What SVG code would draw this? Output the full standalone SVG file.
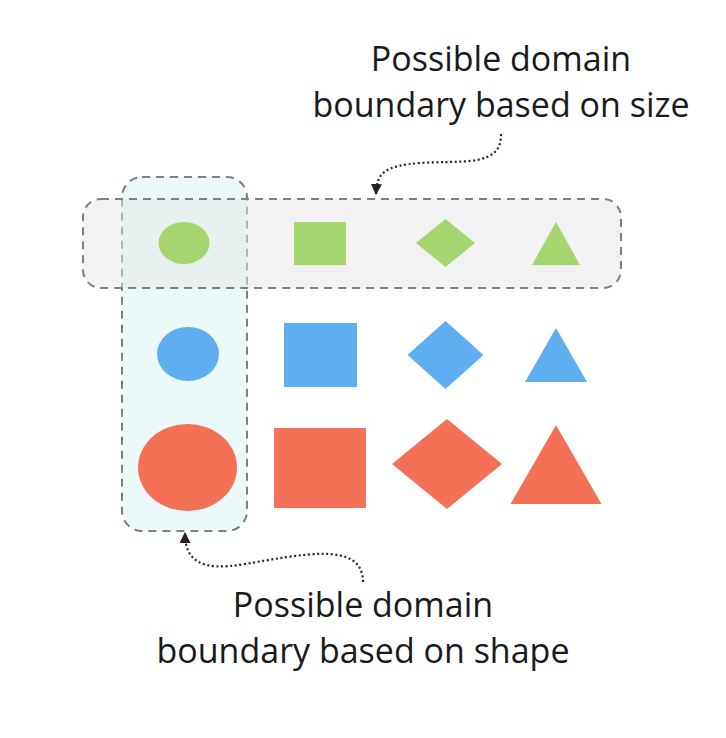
<svg xmlns="http://www.w3.org/2000/svg" width="726" height="738" viewBox="0 0 726 738">
<defs>
<style>
.lbl{font-family:"Open Sans","Noto Sans","DejaVu Sans",sans-serif;font-size:34px;fill:#1a1a1a;text-anchor:middle}
.box{stroke:#7f7f7f;stroke-width:2;stroke-dasharray:8 6}
.g{fill:#A5D56F}
.b{fill:#60AEF2}
.r{fill:#F47158}
.conn{fill:none;stroke:#222;stroke-width:2.2;stroke-dasharray:2 2.6}
</style>
<marker id="arr" viewBox="0 0 10 10" refX="9" refY="5" markerWidth="5" markerHeight="5" orient="auto" markerUnits="strokeWidth">
<path d="M0,0 L10,5 L0,10 z" fill="#222"/>
</marker>
</defs>
<rect width="726" height="738" fill="#ffffff"/>
<g id="shape-boundary">
<rect class="box" x="122" y="177" width="125" height="354" rx="20" fill="#e3f6f6" fill-opacity="0.7"/>
</g>
<g id="size-boundary">
<rect class="box" x="83" y="199" width="538" height="89" rx="18" fill="#e6e6e6" fill-opacity="0.5"/>
</g>
<g id="small-circle"><ellipse class="g" cx="184" cy="243" rx="25.5" ry="21"/></g>
<g id="small-square"><rect class="g" x="294" y="222" width="52" height="43"/></g>
<g id="small-diamond"><polygon class="g" points="445.5,219 475,243 445.5,267 416,243"/></g>
<g id="small-triangle"><polygon class="g" points="556,222 580,265 532,265"/></g>
<g id="medium-circle"><ellipse class="b" cx="188" cy="354" rx="31" ry="27"/></g>
<g id="medium-square"><rect class="b" x="284" y="323" width="73" height="64"/></g>
<g id="medium-diamond"><polygon class="b" points="445.5,321 483.5,355 445.5,389 407.5,355"/></g>
<g id="medium-triangle"><polygon class="b" points="556,328 587,382 525,382"/></g>
<g id="large-circle"><ellipse class="r" cx="187.5" cy="467.5" rx="49.5" ry="43.5"/></g>
<g id="large-square"><rect class="r" x="274" y="428" width="92" height="80"/></g>
<g id="large-diamond"><polygon class="r" points="447,419 502,464 447,509 392,464"/></g>
<g id="large-triangle"><polygon class="r" points="556,425 601.5,504 510.5,504"/></g>
<g id="label-size">
<text class="lbl" x="501" y="71">Possible domain</text>
<text class="lbl" x="501" y="117">boundary based on size</text>
</g>
<g id="label-shape">
<text class="lbl" x="363" y="617">Possible domain</text>
<text class="lbl" x="363" y="663">boundary based on shape</text>
</g>
<g id="connectors">
<path class="conn" d="M501,134 C502,168 460,160 420,163 C385,166 377,172 376,194" marker-end="url(#arr)"/>
<path class="conn" d="M363,582 C363,540 300,555 245,564 C200,572 185,560 185,533" marker-end="url(#arr)"/>
</g>
</svg>
